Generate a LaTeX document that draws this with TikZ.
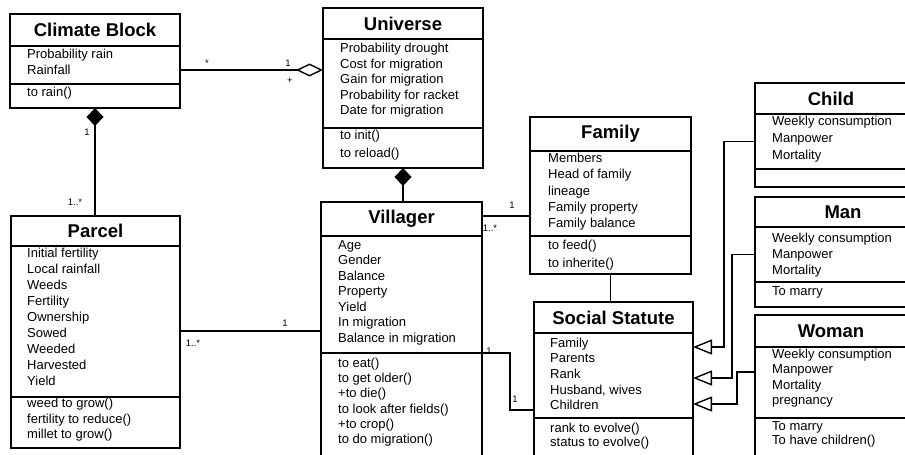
\documentclass[tikz,border=0pt]{standalone}
\usepackage{fontspec}
\setmainfont{Liberation Sans}
\usetikzlibrary{positioning,arrows.meta}
\tikzset{
  ttl/.style={draw,line width=1.6pt,outer sep=0pt,inner sep=0pt,anchor=north,font=\fontsize{18.5}{20}\selectfont\bfseries},
  cmp/.style={draw,line width=1.6pt,outer sep=0pt,inner sep=0pt},
  txt/.style={inner sep=0pt,align=left,font=\fontsize{13}{#1}\selectfont},
  txt/.default=15.5,
  link/.style={line width=1.4pt},
  comp/.style={link,{Diamond[length=18pt,width=17pt]}-},
  aggr/.style={link,{Diamond[open,length=27pt,width=13pt]}-},
  inh/.style={link,-{Triangle[open,length=19pt,width=15pt]}},
  mult/.style={inner sep=0pt,font=\fontsize{9.5}{10}\selectfont},
}
\begin{document}
\begin{tikzpicture}[x=1pt,y=-1pt]
\useasboundingbox (0,0) rectangle (905,455);
\clip (0,0) rectangle (905,455);
% Climate Block
\node[ttl,minimum width=170pt,minimum height=32pt] (cbT) at (95,14) {Climate Block};
\node[cmp,minimum width=170pt,minimum height=38pt,below=0pt of cbT] (cbA) {};
\node[cmp,minimum width=170pt,minimum height=24pt,below=0pt of cbA] (cbM) {};
\node[txt,below right=3pt and 17pt of cbA.north west] (cbAt) {Probability rain\\Rainfall};
\node[txt,below right=3pt and 17pt of cbM.north west] (cbMt) {to rain()};
% Universe
\node[ttl,minimum width=160pt,minimum height=31pt] (uvT) at (403,8) {Universe};
\node[cmp,minimum width=160pt,minimum height=89pt,below=0pt of uvT] (uvA) {};
\node[cmp,minimum width=160pt,minimum height=40pt,below=0pt of uvA] (uvM) {};
\node[txt,below right=4pt and 17pt of uvA.north west] (uvAt) {Probability drought\\Cost for migration\\Gain for migration\\Probability for racket\\Date for migration};
\node[txt=17.7,below right=2pt and 17pt of uvM.north west] (uvMt) {to init()\\to reload()};
% Parcel
\node[ttl,minimum width=169pt,minimum height=30pt] (pcT) at (95.5,216) {Parcel};
\node[cmp,minimum width=169pt,minimum height=151pt,below=0pt of pcT] (pcA) {};
\node[cmp,minimum width=169pt,minimum height=51pt,below=0pt of pcA] (pcM) {};
\node[txt=16,below right=1.5pt and 16pt of pcA.north west] (pcAt) {Initial fertility\\Local rainfall\\Weeds\\Fertility\\Ownership\\Sowed\\Weeded\\Harvested\\Yield};
\node[txt,below right=1pt and 16pt of pcM.north west] (pcMt) {weed to grow()\\fertility to reduce()\\millet to grow()};
% Villager
\node[ttl,minimum width=161pt,minimum height=34pt] (vlT) at (401.5,202) {Villager};
\node[cmp,minimum width=161pt,minimum height=117pt,below=0pt of vlT] (vlA) {};
\node[cmp,minimum width=161pt,minimum height=105pt,below=0pt of vlA] (vlM) {};
\node[txt,below right=4pt and 17pt of vlA.north west] (vlAt) {Age\\Gender\\Balance\\Property\\Yield\\In migration\\Balance in migration};
\node[txt=15.3,below right=4.5pt and 17pt of vlM.north west] (vlMt) {to eat()\\to get older()\\+to die()\\to look after fields()\\+to crop()\\to do migration()};
% Family
\node[ttl,minimum width=161pt,minimum height=34pt] (fmT) at (610.5,117) {Family};
\node[cmp,minimum width=161pt,minimum height=85pt,below=0pt of fmT] (fmA) {};
\node[cmp,minimum width=161pt,minimum height=38pt,below=0pt of fmA] (fmM) {};
\node[txt=16.25,below right=2pt and 18pt of fmA.north west] (fmAt) {Members\\Head of family\\lineage\\Family property\\Family balance};
\node[txt=17.7,below right=4pt and 18pt of fmM.north west] (fmMt) {to feed()\\to inherite()};
% Social Statute
\node[ttl,minimum width=159pt,minimum height=31pt] (ssT) at (613.5,302) {Social Statute};
\node[cmp,minimum width=159pt,minimum height=85pt,below=0pt of ssT] (ssA) {};
\node[cmp,minimum width=159pt,minimum height=45pt,below=0pt of ssA] (ssM) {};
\node[txt=15.7,below right=4.5pt and 16pt of ssA.north west] (ssAt) {Family\\Parents\\Rank\\Husband, wives\\Children};
\node[txt=14,below right=4.5pt and 16pt of ssM.north west] (ssMt) {rank to evolve()\\status to evolve()};
% Child
\node[ttl,minimum width=152pt,minimum height=31pt] (chT) at (831,83) {Child};
\node[cmp,minimum width=152pt,minimum height=55pt,below=0pt of chT] (chA) {};
\node[cmp,minimum width=152pt,minimum height=18pt,below=0pt of chA] (chM) {};
\node[txt=17,below right=2pt and 17pt of chA.north west] (chAt) {Weekly consumption\\Manpower\\Mortality};
% Man
\node[ttl,minimum width=176pt,minimum height=30pt] (mnT) at (843,197) {Man};
\node[cmp,minimum width=176pt,minimum height=55pt,below=0pt of mnT] (mnA) {};
\node[cmp,minimum width=176pt,minimum height=25pt,below=0pt of mnA] (mnM) {};
\node[txt=16,below right=5.5pt and 17pt of mnA.north west] (mnAt) {Weekly consumption\\Manpower\\Mortality};
\node[txt,below right=4pt and 17pt of mnM.north west] (mnMt) {To marry};
% Woman
\node[ttl,minimum width=152pt,minimum height=32pt] (wmT) at (831,315) {Woman};
\node[cmp,minimum width=152pt,minimum height=71pt,below=0pt of wmT] (wmA) {};
\node[cmp,minimum width=152pt,minimum height=45pt,below=0pt of wmA] (wmM) {};
\node[txt=15.3,below right=2pt and 17pt of wmA.north west] (wmAt) {Weekly consumption\\Manpower\\Mortality\\pregnancy};
\node[txt=14,below right=3pt and 17pt of wmM.north west] (wmMt) {To marry\\To have children()};
% associations
\draw[aggr] ([yshift=-5pt]cbA.east -| uvA.west) -- ([yshift=-5pt]cbA.east);
\draw[comp] (cbM.south) -- (cbM.south |- pcT.north);
\draw[comp] (uvM.south) -- (uvM.south |- vlT.north);
\draw[link] ([yshift=-9.5pt]pcA.east) -- ([yshift=-9.5pt]pcA.east -| vlA.west);
\draw[link] ([yshift=3pt]vlT.east) -- ([yshift=3pt]vlT.east -| fmA.west);
\draw[link] (fmM.south) -- (fmM.south |- ssT.north);
\draw[link] (vlM.north east) -- ++(28pt,0) |- ([yshift=-34.5pt]ssA.west);
% inheritance
\draw[inh] (chA.west) -- ++(-31pt,0) |- ([yshift=28.5pt]ssA.east);
\draw[inh] (mnA.west) -- ++(-23pt,0) |- ([yshift=-2.5pt]ssA.east);
\draw[inh] ([yshift=10.5pt]wmA.west) -- ++(-18pt,0) |- ([yshift=-28.5pt]ssA.east);
% multiplicities
\node[mult] (m1) at (207,63) {*};
\node[mult] (m2) at (288,63) {1};
\node[mult] (m3) at (290,81) {+};
\node[mult] (m4) at (87,132) {1};
\node[mult] (m5) at (75,202) {1..*};
\node[mult] (m6) at (285,323) {1};
\node[mult] (m7) at (193,343) {1..*};
\node[mult] (m8) at (512,205) {1};
\node[mult] (m9) at (490,228) {1..*};
\node[mult] (m10) at (489,351) {1};
\node[mult] (m11) at (515,399) {1};
\end{tikzpicture}
\end{document}
